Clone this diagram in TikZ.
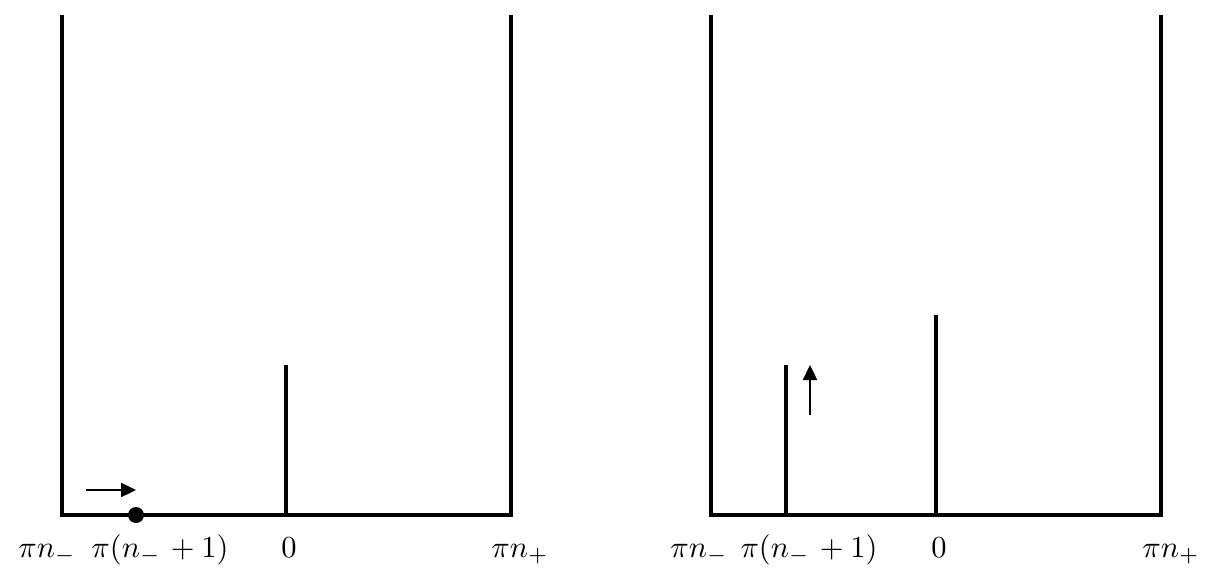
\documentclass[tikz,border=0pt]{standalone}
\usepackage{graphicx}
\usetikzlibrary{arrows.meta}
\newcommand{\lbltext}[1]{\scalebox{3.05}{$#1$}}
\begin{document}
\begin{tikzpicture}[x=1pt,y=-1pt,
  wall/.style={line width=4pt},
  lbl/.style={anchor=base,inner sep=0pt},
  mover/.style={line width=2.4pt,-{Triangle[length=15pt,width=14pt]}}]
\useasboundingbox (0,0) rectangle (1207,583);
% left panel
\coordinate (L1t) at (62,15); \coordinate (L1b) at (62,515);
\coordinate (R1t) at (511,15); \coordinate (R1b) at (511,515);
\coordinate (M1t) at (286,365); \coordinate (M1b) at (286,515);
\draw[wall,line join=miter] (L1t) -- (L1b) -- (R1b) -- (R1t);
\draw[wall] (M1t) -- (M1b);
\node[circle,fill,inner sep=0pt,minimum size=16pt] (dot) at (136,515) {};
\coordinate (a1s) at (86,490); \coordinate (a1e) at (136,490);
\draw[mover] (a1s) -- (a1e);
\node[lbl] (l1a) at (47,557) {\lbltext{\pi n_-}};
\node[lbl] (l1b) at (160,557) {\lbltext{\pi(n_{-}\mkern2mu \mathbin{+} 1)}};
\node[lbl] (l1c) at (289,557) {\lbltext{0}};
\node[lbl] (l1d) at (520,557) {\lbltext{\pi n_+}};
% right panel
\coordinate (L2t) at (711,15); \coordinate (L2b) at (711,515);
\coordinate (R2t) at (1161,15); \coordinate (R2b) at (1161,515);
\coordinate (M2t) at (936,315); \coordinate (M2b) at (936,515);
\coordinate (N2t) at (786,365); \coordinate (N2b) at (786,515);
\draw[wall,line join=miter] (L2t) -- (L2b) -- (R2b) -- (R2t);
\draw[wall] (M2t) -- (M2b);
\draw[wall] (N2t) -- (N2b);
\coordinate (a2s) at (810,415); \coordinate (a2e) at (810,365);
\draw[mover] (a2s) -- (a2e);
\node[lbl] (l2a) at (699,557) {\lbltext{\pi n_-}};
\node[lbl] (l2b) at (809,557) {\lbltext{\pi(n_{-}\mkern2mu \mathbin{+} 1)}};
\node[lbl] (l2c) at (939,557) {\lbltext{0}};
\node[lbl] (l2d) at (1171,557) {\lbltext{\pi n_+}};
\end{tikzpicture}
\end{document}
